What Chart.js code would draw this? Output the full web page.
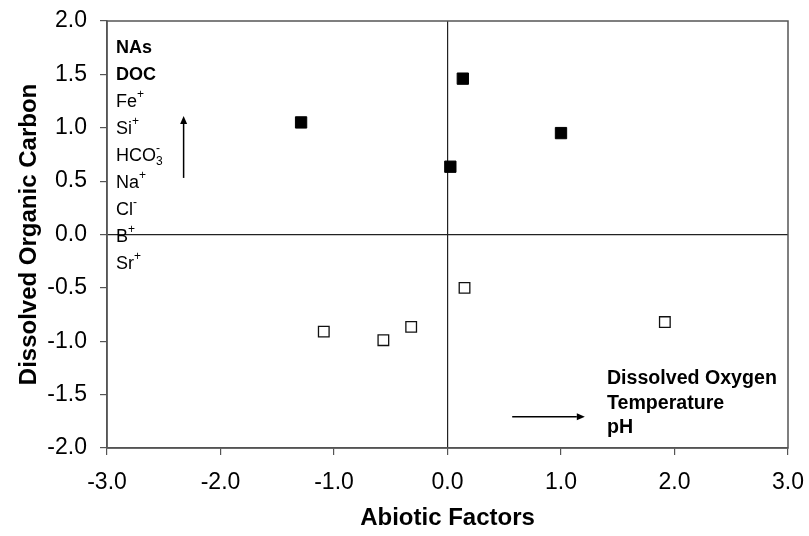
<!DOCTYPE html>
<html>
<head>
<meta charset="utf-8">
<script src="https://cdn.jsdelivr.net/npm/chart.js@4/dist/chart.umd.min.js"></script>
<style>
  html, body { margin: 0; padding: 0; background: #fff; }
  #wrap { width: 809px; height: 536px; }
</style>
</head>
<body>
<div id="wrap"><canvas id="chart" width="809" height="536"></canvas></div>
<script>
var FONT = '"Liberation Sans", Arial, Helvetica, sans-serif';

// samples above the DOC axis (filled) and below it (open)
var upperX = [-1.29, 0.135, 1.0, 0.025];
var upperY = [1.05, 1.46, 0.95, 0.635];
var lowerX = [0.15, -1.09, -0.565, -0.32, 1.915];
var lowerY = [-0.50, -0.91, -0.99, -0.865, -0.82];

var xTicks = [-3, -2, -1, 0, 1, 2, 3];
var yTicks = [-2, -1.5, -1, -0.5, 0, 0.5, 1, 1.5, 2];

// loadings along the vertical axis: [text, superscript, subscript, bold]
var docLoadings = [
  ["NAs", "", "", true],
  ["DOC", "", "", true],
  ["Fe", "+", "", false],
  ["Si", "+", "", false],
  ["HCO", "-", "3", false],
  ["Na", "+", "", false],
  ["Cl", "-", "", false],
  ["B", "+", "", false],
  ["Sr", "+", "", false]
];
// loadings along the horizontal axis
var abioticLoadings = ["Dissolved Oxygen", "Temperature", "pH"];

function toPoints(xs, ys) {
  return xs.map(function (x, i) { return { x: x, y: ys[i] }; });
}

function arrow(ctx, x0, y0, x1, y1) {
  var a = Math.atan2(y1 - y0, x1 - x0), h = 8, w = 3.5;
  ctx.beginPath();
  ctx.moveTo(x0, y0);
  ctx.lineTo(x1 - h * Math.cos(a), y1 - h * Math.sin(a));
  ctx.stroke();
  ctx.beginPath();
  ctx.moveTo(x1, y1);
  ctx.lineTo(x1 - h * Math.cos(a) - w * Math.sin(a), y1 - h * Math.sin(a) + w * Math.cos(a));
  ctx.lineTo(x1 - h * Math.cos(a) + w * Math.sin(a), y1 - h * Math.sin(a) - w * Math.cos(a));
  ctx.closePath();
  ctx.fill();
}

var frame = {
  id: "frame",
  beforeDatasetsDraw: function (chart) {
    var a = chart.chartArea, ctx = chart.ctx;
    ctx.save();
    ctx.strokeStyle = "#555";
    ctx.lineWidth = 1.5;
    ctx.strokeRect(a.left, a.top, a.right - a.left, a.bottom - a.top);
    ctx.restore();
  }
};

var loadingsText = {
  id: "loadingsText",
  afterDatasetsDraw: function (chart) {
    var ctx = chart.ctx, xs = chart.scales.x, ys = chart.scales.y;
    ctx.save();
    ctx.fillStyle = "#000";
    ctx.strokeStyle = "#000";
    ctx.lineWidth = 1.5;
    ctx.textBaseline = "middle";
    ctx.textAlign = "left";

    var lx = xs.getPixelForValue(-2.92);
    var top = ys.getPixelForValue(1.75);
    docLoadings.forEach(function (d, i) {
      var y = top + i * 27;
      ctx.font = (d[3] ? "bold " : "") + "18px " + FONT;
      ctx.fillText(d[0], lx, y);
      var w = ctx.measureText(d[0]).width;
      ctx.font = "12px " + FONT;
      if (d[2]) {
        ctx.fillText(d[2], lx + w, y + 6);
      }
      if (d[1]) {
        ctx.fillText(d[1], lx + w, y - 7);
      }
    });

    var rx = xs.getPixelForValue(1.405);
    var ry = ys.getPixelForValue(-1.35);
    ctx.font = "bold 19.6px " + FONT;
    abioticLoadings.forEach(function (t, i) {
      ctx.fillText(t, rx, ry + i * 24.5);
    });

    arrow(ctx, xs.getPixelForValue(-2.325), ys.getPixelForValue(0.53),
      xs.getPixelForValue(-2.325), ys.getPixelForValue(1.11));
    arrow(ctx, xs.getPixelForValue(0.57), ys.getPixelForValue(-1.707),
      xs.getPixelForValue(1.21), ys.getPixelForValue(-1.707));
    ctx.restore();
  }
};

function zeroLine(ctx) {
  return ctx.tick && ctx.tick.value === 0 ? "#222" : "rgba(0,0,0,0)";
}

new Chart(document.getElementById("chart"), {
  type: "scatter",
  data: {
    datasets: [
      {
        data: toPoints(upperX, upperY),
        pointStyle: "rect",
        pointRadius: 8,
        pointHoverRadius: 8,
        backgroundColor: "#000",
        borderColor: "#000",
        borderWidth: 1
      },
      {
        data: toPoints(lowerX, lowerY),
        pointStyle: "rect",
        pointRadius: 7.5,
        pointHoverRadius: 7.5,
        backgroundColor: "#fff",
        borderColor: "#111",
        borderWidth: 1.3
      }
    ]
  },
  options: {
    responsive: false,
    animation: false,
    events: [],
    layout: { padding: { top: 21, right: 21, left: 0, bottom: 0 } },
    plugins: { legend: { display: false }, tooltip: { enabled: false } },
    scales: {
      x: {
        type: "linear",
        min: -3,
        max: 3,
        afterBuildTicks: function (s) { s.ticks = xTicks.map(function (v) { return { value: v }; }); },
        afterFit: function (s) { s.height = 88; s.paddingLeft = 0; s.paddingRight = 0; },
        border: { display: true, color: "#555", width: 1.5 },
        grid: { color: zeroLine, lineWidth: 1.2, tickColor: "#555", tickLength: 7, drawOnChartArea: true },
        ticks: {
          color: "#000",
          padding: 14,
          font: { family: FONT, size: 23 },
          callback: function (v) { return v.toFixed(1); }
        },
        title: {
          display: true,
          text: "Abiotic Factors",
          color: "#000",
          font: { family: FONT, size: 24, weight: "bold" },
          padding: { top: 0, bottom: 3 }
        }
      },
      y: {
        type: "linear",
        min: -2,
        max: 2,
        afterBuildTicks: function (s) { s.ticks = yTicks.map(function (v) { return { value: v }; }); },
        afterFit: function (s) { s.width = 107; s.paddingTop = 0; s.paddingBottom = 0; },
        border: { display: true, color: "#555", width: 1.5 },
        grid: { color: zeroLine, lineWidth: 1.2, tickColor: "#555", tickLength: 7, drawOnChartArea: true },
        ticks: {
          color: "#000",
          padding: 13,
          font: { family: FONT, size: 23 },
          callback: function (v) { return v.toFixed(1); }
        },
        title: {
          display: true,
          text: "Dissolved Organic Carbon",
          color: "#000",
          font: { family: FONT, size: 24, weight: "bold" },
          padding: { top: 15, bottom: 0 }
        }
      }
    }
  },
  plugins: [frame, loadingsText]
});
</script>
</body>
</html>
